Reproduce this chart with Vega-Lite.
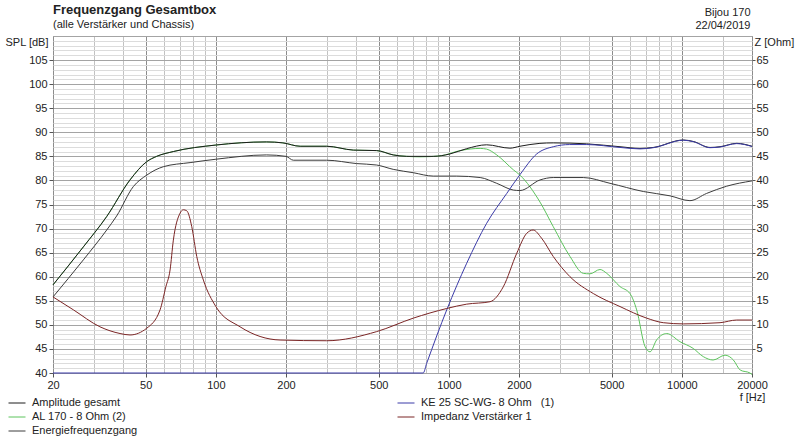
{
  "$schema": "https://vega.github.io/schema/vega-lite/v6.json",
  "width": 699,
  "height": 337,
  "autosize": {"type": "none"},
  "padding": {"left": 53, "top": 36, "right": 48, "bottom": 63},
  "background": "white",
  "config": {
    "font": "Liberation Sans",
    "view": {"stroke": "#8a8a8a"},
    "axis": {"labelFont": "Liberation Sans", "labelFontSize": 11, "labelColor": "#222", "titleFont": "Liberation Sans", "titleFontSize": 11, "titleColor": "#222", "titleFontWeight": "normal", "tickColor": "#555"},
    "line": {"interpolate": "monotone", "strokeWidth": 1, "clip": true}
  },
  "title": {
    "text": "Frequenzgang Gesamtbox",
    "subtitle": "(alle Verstärker und Chassis)",
    "anchor": "start",
    "frame": "group",
    "font": "Liberation Sans",
    "fontSize": 13,
    "fontWeight": "bold",
    "color": "#222",
    "subtitleFont": "Liberation Sans",
    "subtitleFontSize": 11,
    "subtitleColor": "#222",
    "subtitlePadding": 2,
    "offset": -24
  },
  "datasets": {
    "amp": [
      {"f": 20, "v": 58.3}, {"f": 27, "v": 66.2}, {"f": 34, "v": 72.5}, {"f": 42.8, "v": 80.1},
      {"f": 50.5, "v": 83.9}, {"f": 55.7, "v": 85.0}, {"f": 65.7, "v": 86.0}, {"f": 100, "v": 87.35},
      {"f": 165, "v": 88.0}, {"f": 194, "v": 87.8}, {"f": 230, "v": 87.1}, {"f": 299, "v": 87.1},
      {"f": 389, "v": 86.3}, {"f": 490, "v": 86.2}, {"f": 577, "v": 85.3}, {"f": 659, "v": 85.0},
      {"f": 857, "v": 85.0}, {"f": 1011, "v": 85.5}, {"f": 1193, "v": 86.6}, {"f": 1453, "v": 87.4},
      {"f": 1829, "v": 86.7}, {"f": 2019, "v": 87.1}, {"f": 2460, "v": 87.7}, {"f": 2806, "v": 87.8},
      {"f": 3904, "v": 87.6}, {"f": 5427, "v": 87.0}, {"f": 6610, "v": 86.65}, {"f": 7540, "v": 86.85},
      {"f": 10145, "v": 88.4}, {"f": 11190, "v": 88.1}, {"f": 13210, "v": 86.85}, {"f": 14580, "v": 87.0},
      {"f": 17190, "v": 87.7}, {"f": 20000, "v": 87.1}
    ],
    "energie": [
      {"f": 20, "v": 55.8}, {"f": 27, "v": 63.5}, {"f": 34, "v": 69.7}, {"f": 37.5, "v": 72.6},
      {"f": 44.2, "v": 78.7}, {"f": 50.5, "v": 81.1}, {"f": 59.5, "v": 82.85}, {"f": 77.5, "v": 83.7},
      {"f": 100, "v": 84.4}, {"f": 165, "v": 85.3}, {"f": 200, "v": 85.0}, {"f": 215, "v": 84.2},
      {"f": 299, "v": 84.2}, {"f": 402, "v": 83.5}, {"f": 490, "v": 83.2}, {"f": 577, "v": 82.3},
      {"f": 704, "v": 81.6}, {"f": 857, "v": 80.9}, {"f": 1081, "v": 80.9}, {"f": 1363, "v": 80.6},
      {"f": 1605, "v": 79.4}, {"f": 1892, "v": 78.0}, {"f": 2019, "v": 77.9}, {"f": 2462, "v": 80.1},
      {"f": 2806, "v": 80.6}, {"f": 3776, "v": 80.6}, {"f": 4917, "v": 79.4}, {"f": 6833, "v": 77.7},
      {"f": 8894, "v": 76.8}, {"f": 10830, "v": 75.8}, {"f": 12770, "v": 77.3}, {"f": 15570, "v": 78.8},
      {"f": 20000, "v": 79.9}
    ],
    "al170": [
      {"f": 20, "v": 58.3}, {"f": 27, "v": 66.2}, {"f": 34, "v": 72.5}, {"f": 42.8, "v": 80.1},
      {"f": 50.5, "v": 83.9}, {"f": 55.7, "v": 85.0}, {"f": 65.7, "v": 86.0}, {"f": 100, "v": 87.35},
      {"f": 165, "v": 88.0}, {"f": 194, "v": 87.8}, {"f": 230, "v": 87.1}, {"f": 299, "v": 87.1},
      {"f": 389, "v": 86.3}, {"f": 490, "v": 86.2}, {"f": 577, "v": 85.3}, {"f": 659, "v": 85.0},
      {"f": 752, "v": 84.9}, {"f": 919, "v": 85.1}, {"f": 1117, "v": 86.2}, {"f": 1363, "v": 86.65},
      {"f": 1453, "v": 86.5}, {"f": 1605, "v": 85.3}, {"f": 1892, "v": 82.2}, {"f": 2019, "v": 81.1},
      {"f": 2462, "v": 75.5}, {"f": 2806, "v": 70.4}, {"f": 3311, "v": 64.2}, {"f": 3776, "v": 60.7},
      {"f": 4030, "v": 60.6}, {"f": 4454, "v": 61.5}, {"f": 4761, "v": 60.7}, {"f": 5427, "v": 57.95},
      {"f": 5988, "v": 56.5}, {"f": 6400, "v": 53.1}, {"f": 6950, "v": 45.5}, {"f": 7300, "v": 44.4},
      {"f": 7800, "v": 46.9}, {"f": 8610, "v": 48.2}, {"f": 9820, "v": 46.5}, {"f": 11190, "v": 45.1},
      {"f": 12360, "v": 43.4}, {"f": 13620, "v": 42.7}, {"f": 15320, "v": 43.7}, {"f": 16640, "v": 42.7},
      {"f": 17820, "v": 40.6}, {"f": 19600, "v": 40.0}, {"f": 20000, "v": 39.7}
    ],
    "ke25": [
      {"f": 20, "v": 40.0}, {"f": 776, "v": 40.0}, {"f": 803, "v": 42.0}, {"f": 979, "v": 53.1},
      {"f": 1193, "v": 62.8}, {"f": 1453, "v": 71.1}, {"f": 1772, "v": 77.3}, {"f": 2019, "v": 81.2},
      {"f": 2383, "v": 85.5}, {"f": 2806, "v": 87.0}, {"f": 3300, "v": 87.45}, {"f": 3904, "v": 87.45},
      {"f": 5427, "v": 86.85}, {"f": 6610, "v": 86.55}, {"f": 7540, "v": 86.8}, {"f": 10145, "v": 88.35},
      {"f": 11190, "v": 88.05}, {"f": 13210, "v": 86.8}, {"f": 14580, "v": 86.95}, {"f": 17190, "v": 87.65},
      {"f": 20000, "v": 87.05}
    ],
    "imp": [
      {"f": 20, "z": 15.8}, {"f": 24.5, "z": 13.1}, {"f": 31.8, "z": 9.6}, {"f": 38.8, "z": 8.2},
      {"f": 42.8, "z": 7.9}, {"f": 50.5, "z": 9.3}, {"f": 57.6, "z": 13.1}, {"f": 61, "z": 17.9},
      {"f": 63.6, "z": 21.4}, {"f": 65.7, "z": 27.6}, {"f": 70.2, "z": 33.2}, {"f": 72.5, "z": 33.9},
      {"f": 75, "z": 33.7}, {"f": 78.8, "z": 30.4}, {"f": 82.8, "z": 24.2}, {"f": 88.4, "z": 19.3},
      {"f": 100, "z": 13.8}, {"f": 127, "z": 9.6}, {"f": 188.6, "z": 6.85}, {"f": 299, "z": 6.7},
      {"f": 490, "z": 8.6}, {"f": 704, "z": 11.4}, {"f": 979, "z": 13.4}, {"f": 1193, "z": 14.3},
      {"f": 1501, "z": 14.8}, {"f": 1712, "z": 17.9}, {"f": 1955, "z": 24.85}, {"f": 2157, "z": 29.0},
      {"f": 2300, "z": 29.7}, {"f": 2500, "z": 28.0}, {"f": 2806, "z": 24.2}, {"f": 3311, "z": 20.0},
      {"f": 4170, "z": 16.5}, {"f": 5427, "z": 13.8}, {"f": 7060, "z": 11.4}, {"f": 8322, "z": 10.45},
      {"f": 10145, "z": 10.2}, {"f": 14580, "z": 10.45}, {"f": 17190, "z": 11.0}, {"f": 20000, "z": 11.0}
    ]
  },
  "layer": [
    {
      "encoding": {
        "x": {
          "field": "f",
          "type": "quantitative",
          "scale": {"type": "log", "domain": [20, 20000], "nice": false},
          "axis": {
            "values": [20, 30, 40, 50, 60, 70, 80, 90, 100, 200, 300, 400, 500, 600, 700, 800, 900, 1000, 2000, 3000, 4000, 5000, 6000, 7000, 8000, 9000, 10000, 15000, 20000],
            "labelExpr": "indexof([20, 50, 100, 200, 500, 1000, 2000, 5000, 10000, 20000], datum.value) >= 0 ? '' + datum.value : ''",
            "labelOverlap": false,
            "labelFlush": false,
            "labelPadding": 2,
            "grid": true,
            "gridColor": {"condition": {"test": "indexof([20, 50, 100, 200, 500, 1000, 2000, 5000, 10000, 20000], datum.value) >= 0", "value": "#8c8c8c"}, "value": "#c2c2c2"},
            "tickOpacity": {"condition": {"test": "indexof([20, 50, 100, 200, 500, 1000, 2000, 5000, 10000, 20000], datum.value) >= 0", "value": 1}, "value": 0},
            "tickSize": 4,
            "domain": false,
            "title": "f [Hz]",
            "titleX": 699,
            "titleY": 24,
            "titleAlign": "center",
            "titleBaseline": "middle"
          }
        },
        "y": {
          "field": "v",
          "type": "quantitative",
          "scale": {"domain": [40, 110], "nice": false, "zero": false},
          "axis": {
            "values": [40, 41, 42, 43, 44, 45, 46, 47, 48, 49, 50, 51, 52, 53, 54, 55, 56, 57, 58, 59, 60, 61, 62, 63, 64, 65, 66, 67, 68, 69, 70, 71, 72, 73, 74, 75, 76, 77, 78, 79, 80, 81, 82, 83, 84, 85, 86, 87, 88, 89, 90, 91, 92, 93, 94, 95, 96, 97, 98, 99, 100, 101, 102, 103, 104, 105, 106, 107, 108, 109, 110],
            "labelExpr": "datum.value % 5 === 0 && datum.value < 110 ? '' + datum.value : ''",
            "labelOverlap": false,
            "labelPadding": 2,
            "grid": true,
            "gridColor": {"condition": {"test": "datum.value % 5 === 0", "value": "#a4a4a4"}, "value": "#dcdcdc"},
            "tickOpacity": {"condition": {"test": "datum.value % 5 === 0 && datum.value < 110", "value": 1}, "value": 0},
            "tickSize": 4,
            "domain": false,
            "title": "SPL [dB]",
            "titleAngle": 0,
            "titleAlign": "right",
            "titleBaseline": "middle",
            "titleX": -5,
            "titleY": 6
          }
        }
      },
      "layer": [
        {
          "data": {"name": "al170"},
          "mark": {"type": "line"},
          "encoding": {
            "color": {
              "datum": "AL 170 - 8 Ohm (2)",
              "type": "nominal",
              "scale": {
                "domain": ["Amplitude gesamt", "KE 25 SC-WG- 8 Ohm\u00a0\u00a0\u00a0(1)", "AL 170 - 8 Ohm (2)", "Impedanz Verstärker 1", "Energiefrequenzgang"],
                "range": ["#1c1c1c", "#3a3aa8", "#5cc45c", "#7b2525", "#3c3c3c"]
              },
              "legend": {
                "orient": "none",
                "legendX": -45,
                "legendY": 358,
                "direction": "horizontal",
                "columns": 2,
                "columnPadding": 257,
                "rowPadding": -6.5,
                "title": null,
                "symbolType": "stroke",
                "symbolSize": 289,
                "symbolStrokeWidth": 1.5,
                "labelFont": "Liberation Sans",
                "labelFontSize": 11,
                "labelColor": "#222",
                "labelOffset": 6,
                "labelLimit": 300
              }
            }
          }
        },
        {
          "data": {"name": "energie"},
          "mark": {"type": "line"},
          "encoding": {"color": {"datum": "Energiefrequenzgang", "type": "nominal"}}
        },
        {
          "data": {"name": "amp"},
          "mark": {"type": "line"},
          "encoding": {"color": {"datum": "Amplitude gesamt", "type": "nominal"}}
        },
        {
          "data": {"name": "ke25"},
          "mark": {"type": "line"},
          "encoding": {"color": {"datum": "KE 25 SC-WG- 8 Ohm\u00a0\u00a0\u00a0(1)", "type": "nominal"}}
        }
      ]
    },
    {
      "data": {"name": "imp"},
      "mark": {"type": "line"},
      "encoding": {
        "x": {
          "field": "f",
          "type": "quantitative",
          "axis": {
            "orient": "top",
            "labels": false,
            "ticks": false,
            "domain": false,
            "grid": false,
            "title": ["Bijou 170", "22/04/2019"],
            "titleAlign": "right",
            "titleBaseline": "top",
            "titleX": 697,
            "titleY": -30,
            "titleLineHeight": 13
          }
        },
        "y": {
          "field": "z",
          "type": "quantitative",
          "scale": {"domain": [0, 70], "nice": false, "zero": false},
          "axis": {
            "orient": "right",
            "values": [5, 10, 15, 20, 25, 30, 35, 40, 45, 50, 55, 60, 65],
            "grid": false,
            "tickSize": 3,
            "labelPadding": 1,
            "domain": false,
            "title": "Z [Ohm]",
            "titleAngle": 0,
            "titleAlign": "left",
            "titleBaseline": "middle",
            "titleX": 2,
            "titleY": 6
          }
        },
        "color": {"datum": "Impedanz Verstärker 1", "type": "nominal"}
      }
    }
  ],
  "resolve": {"scale": {"y": "independent"}, "axis": {"x": "independent"}}
}
